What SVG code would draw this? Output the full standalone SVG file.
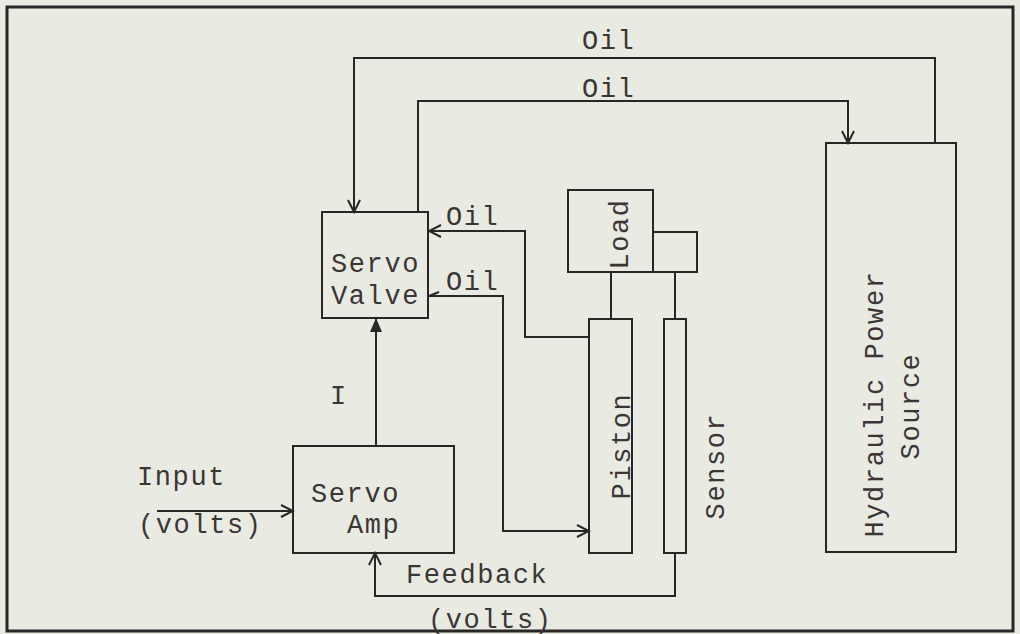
<svg xmlns="http://www.w3.org/2000/svg" width="1020" height="634" viewBox="0 0 1020 634">
<defs>
<style>
.bg{fill:#e9eae2}
.box{fill:none;stroke:#2a2626;stroke-width:2}
.ln{fill:none;stroke:#2a2626;stroke-width:2}
.t{font-family:"Liberation Mono","Courier New",monospace;font-size:27px;letter-spacing:1.6px;fill:#3a3636}
.tm{text-anchor:middle}
</style>
<marker id="open" markerWidth="16" markerHeight="16" refX="14" refY="8" orient="auto" markerUnits="userSpaceOnUse">
<path d="M2,2 L14,8 L2,14" fill="none" stroke="#2a2626" stroke-width="2"/>
</marker>
<marker id="openS" markerWidth="16" markerHeight="16" refX="2" refY="8" orient="auto" markerUnits="userSpaceOnUse">
<path d="M12,4 L2,8" fill="none" stroke="#2a2626" stroke-width="2"/>
</marker>
<marker id="fill" markerWidth="16" markerHeight="20" refX="14" refY="8" orient="auto" markerUnits="userSpaceOnUse">
<path d="M0,2 L14,8 L0,14 Z" fill="#2a2626"/>
</marker>
</defs>
<rect class="bg" x="0" y="0" width="1020" height="634"/>
<rect x="7" y="7" width="1006" height="624" fill="none" stroke="#2a2626" stroke-width="3"/>

<g id="connectors">
<path class="ln" d="M935,143 V58 H354 V212" marker-end="url(#open)"/>
<path class="ln" d="M418,212 V101 H848 V143" marker-end="url(#open)"/>
<path class="ln" d="M589,337 H525 V231 H429" marker-end="url(#open)"/>
<path class="ln" d="M429,296 H503 V531 H589" marker-start="url(#openS)" marker-end="url(#open)"/>
<path class="ln" d="M376,446 V318" marker-end="url(#fill)"/>
<path class="ln" d="M157,511 H293" marker-end="url(#open)"/>
<path class="ln" d="M675,553 V596 H375 V553" marker-end="url(#open)"/>
<path class="ln" d="M611,272 V319"/>
<path class="ln" d="M675,272 V319"/>
<text class="t" x="582" y="49">Oil</text>
<text class="t" x="582" y="97">Oil</text>
<text class="t" x="446" y="225">Oil</text>
<text class="t" x="446" y="290">Oil</text>
<text class="t" x="330" y="404">I</text>
<text class="t" x="137" y="485">Input</text>
<text class="t" x="138" y="533">(volts)</text>
<text class="t" x="406" y="583">Feedback</text>
<text class="t" x="428" y="628">(volts)</text>
</g>

<g id="servo-valve">
<rect class="box" x="322" y="212" width="106" height="106"/>
<text class="t" x="331" y="272">Servo</text>
<text class="t" x="331" y="304">Valve</text>
</g>

<g id="servo-amp">
<rect class="box" x="293" y="446" width="161" height="107"/>
<text class="t" x="311" y="502">Servo</text>
<text class="t" x="347" y="533">Amp</text>
</g>

<g id="load">
<rect class="box" x="568" y="190" width="85" height="82"/>
<rect class="box" x="653" y="232" width="44" height="40"/>
<text class="t tm" transform="translate(628,234) rotate(-90)">Load</text>
</g>

<g id="piston">
<rect class="box" x="589" y="319" width="43" height="234"/>
<text class="t tm" transform="translate(630,446) rotate(-90)">Piston</text>
</g>

<g id="sensor">
<rect class="box" x="664" y="319" width="22" height="234"/>
<text class="t tm" transform="translate(724,466) rotate(-90)">Sensor</text>
</g>

<g id="hydraulic-power-source">
<rect class="box" x="826" y="143" width="130" height="409"/>
<text class="t tm" transform="translate(883,404) rotate(-90)">Hydraulic Power</text>
<text class="t tm" transform="translate(919,406) rotate(-90)">Source</text>
</g>
</svg>
